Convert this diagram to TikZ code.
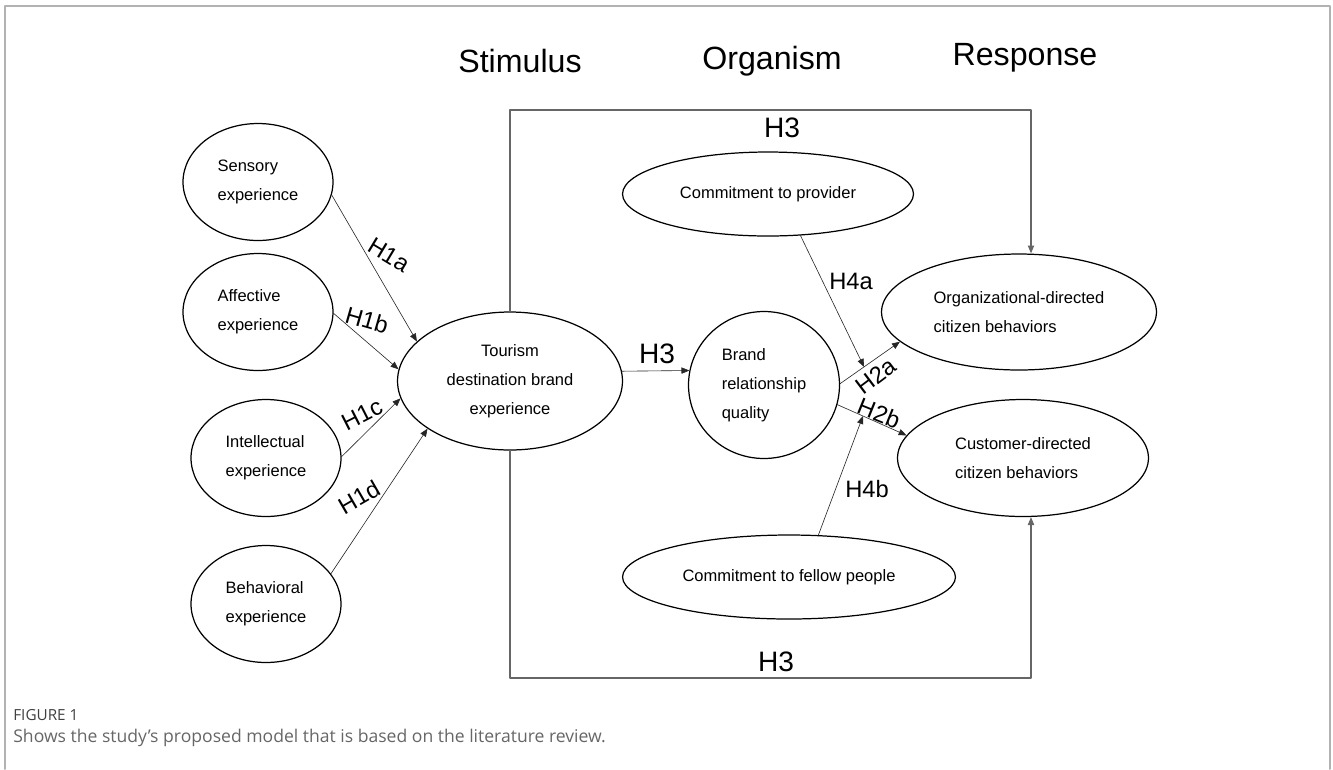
\documentclass[tikz,border=0pt]{standalone}
\usepackage{fontspec}
\setmainfont{Liberation Sans}
\newfontfamily\capfont{Open Sans}
\usetikzlibrary{shapes.geometric,arrows.meta}
\tikzset{
  elli/.style={draw, ellipse, line width=0.7pt, inner sep=0pt, font=\fontsize{9.4}{16.5}\selectfont},
  con/.style={->, line width=0.35pt, draw=black!85},
  box/.style={line width=0.6pt, draw=black!60},
  hyp/.style={font=\fontsize{13.5}{16}\selectfont, inner sep=0pt},
  hbig/.style={font=\fontsize{16}{18}\selectfont, inner sep=0pt},
  head/.style={font=\fontsize{18.3}{20}\selectfont, inner sep=0pt},
}
\begin{document}
\begin{tikzpicture}[x=0.02cm,y=-0.02cm,line join=round,line cap=round,>={Triangle[length=4.5pt,width=3.6pt]}]
\useasboundingbox (0,0) rectangle (1333,769);
\draw[draw=black!30,line width=1.1pt] (5,769) -- (5,6) -- (1330,6) -- (1330,769);

\node[head] (stim) at (520,61) {Stimulus};
\node[head] (orga) at (772,61) {Organism};
\node[head] (resp) at (1025,58) {Response};

\foreach \n/\x/\y/\t in {sens/258/182/Sensory, aff/258/312/Affective, int/266/458/Intellectual, beh/266/604/Behavioral}
  {\node[elli,align=left,minimum width=3cm,minimum height=2.34cm] (\n) at (\x,\y) {\t\\experience};}

\node[elli,align=center,minimum width=4.5cm,minimum height=2.76cm] (tour) at (510,381) {Tourism\\destination brand\\experience};
\node[elli,align=left,minimum width=3.02cm,minimum height=2.94cm] (brand) at (764,385) {Brand\\relationship\\quality};
\node[elli,minimum width=5.82cm,minimum height=1.68cm] (prov) at (768,194) {Commitment to provider};
\node[elli,minimum width=6.66cm,minimum height=1.68cm] (fell) at (789,577) {Commitment to fellow people};
\node[elli,align=left,minimum width=5.5cm,minimum height=2.32cm] (org) at (1019,312) {Organizational-directed\\citizen behaviors};
\node[elli,align=left,minimum width=5.02cm,minimum height=2.34cm] (cust) at (1023,458) {Customer-directed\\citizen behaviors};

\foreach \a/\b in {sens.-10/tour.157, aff.-1/tour.174, int.1/tour.-171, beh.25/tour.-150}
  {\draw[con] (\a) -- (\b);}
\draw[con] (tour.5) -- (brand.169);
\draw[con] (brand.1) -- coordinate[pos=0.4] (m2a) (org.-166);
\draw[con] (brand.-15) -- coordinate[pos=0.37] (m2b) (cust.169);
\draw[con] (prov.-52) -- (m2a);
\draw[con] (fell.55) -- (m2b);

\coordinate (tr) at (1031,110);
\coordinate (br) at (1031,678);
\draw[box,->] (tour.north) |- (tr) -- (tr |- org.north);
\draw[box,->] (tour.south) |- (br) -- (br |- cust.south);

\foreach \n/\x/\y/\r/\t in {h1a/389/255/-31/H1a, h1b/367/320/-16/H1b, h1c/362/415/27/H1c, h1d/359/497/30/H1d, h2a/876/376/37/H2a, h2b/879/413/-22/H2b, h4a/851/281/0/H4a, h4b/867/489/0/H4b}
  {\node[hyp,rotate=\r] (\n) at (\x,\y) {\t};}
\node[hbig] (h3t) at (782,128) {H3};
\node[hbig] (h3m) at (657,354) {H3};
\node[hbig] (h3b) at (776,662) {H3};

\node[anchor=west,inner sep=0pt,font=\capfont\fontsize{8.7}{10}\selectfont,text=black!75] (fig) at (13,715) {FIGURE 1};
\node[anchor=west,inner sep=0pt,font=\capfont\fontsize{10}{12}\selectfont,text=black!60] (cap) at (13,738) {Shows the study’s proposed model that is based on the literature review.};
\end{tikzpicture}
\end{document}
